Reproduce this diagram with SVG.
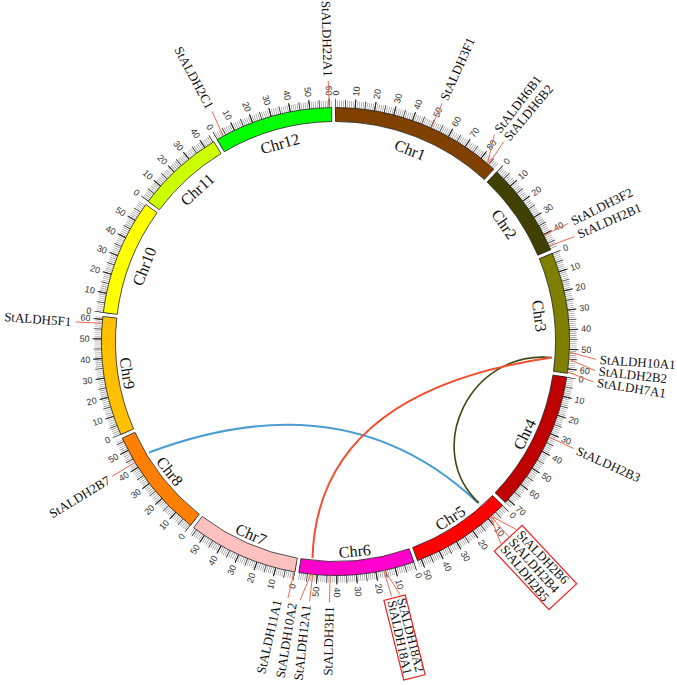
<svg xmlns="http://www.w3.org/2000/svg" xmlns:xlink="http://www.w3.org/1999/xlink" width="677" height="685" viewBox="0 0 677 685">
<style>
.tk1{fill:none;stroke:#8c8c8c;stroke-width:14;stroke-dasharray:0.6 1.36297;stroke-dashoffset:0.3}
.tk5{fill:none;stroke:#444;stroke-width:16;stroke-dasharray:0.8 9.01485;stroke-dashoffset:0.4}
.tk10{fill:none;stroke:#222;stroke-width:18;stroke-dasharray:1 18.6297;stroke-dashoffset:0.5}
.band{stroke:#222;stroke-width:0.8}
.num{font-family:"Liberation Sans",Arial,sans-serif;font-size:9px;fill:#333;dominant-baseline:central}
.nr{text-anchor:start}
.nl{text-anchor:end}
.chr{font-family:"Liberation Serif","Times New Roman",serif;font-size:16px;text-anchor:middle;fill:#111}
.gl{stroke:#f26a50;stroke-width:1;fill:none}
.gt{font-family:"Liberation Serif","Times New Roman",serif;font-size:13px;fill:#111;dominant-baseline:central}
.box{fill:none;stroke:#f02020;stroke-width:1.2}
.lk{fill:none}
</style>
<defs>
<path id="a1" d="M335.5,107.5 A234,234 0 0 1 493.84,169.21"/>
<path id="a2" d="M496.71,171.89 A234,234 0 0 1 550.74,249.71"/>
<path id="a3" d="M552.26,253.34 A234,234 0 0 1 567.33,373.30"/>
<path id="a4" d="M566.76,377.19 A234,234 0 0 1 505.31,502.50"/>
<path id="a5" d="M502.59,505.32 A234,234 0 0 1 417.54,560.65"/>
<path id="a6" d="M413.85,561.99 A234,234 0 0 1 298.75,572.60"/>
<path id="a7" d="M294.88,571.95 A234,234 0 0 1 193.71,527.65"/>
<path id="a8" d="M190.60,525.24 A234,234 0 0 1 122.22,438.13"/>
<path id="a9" d="M120.80,434.55 A234,234 0 0 1 102.84,316.52"/>
<path id="a10" d="M103.29,312.62 A234,234 0 0 1 145.79,204.51"/>
<path id="a11" d="M148.11,201.35 A234,234 0 0 1 213.80,141.64"/>
<path id="a12" d="M217.17,139.62 A234,234 0 0 1 331.58,107.53"/>
</defs>
<rect width="677" height="685" fill="#fff"/>

<g id="links">
<path class="lk" stroke="#4c9dd1" stroke-width="2" d="M149,452.5 Q346.5,378.3 478,503"/>
<path class="lk" stroke="#3a4a10" stroke-width="1.6" d="M551,357.5 C470,350 422,450 479,503"/>
<path class="lk" stroke="#f25030" stroke-width="2" d="M552,357.5 Q317.5,391.5 312.5,558"/>
</g>

<g id="chr1">
<use href="#a1" class="tk1"/><use href="#a1" class="tk5"/><use href="#a1" class="tk10"/>
<path class="band" fill="#7f4000" d="M335.5,107.5 A234,234 0 0 1 493.84,169.21 L484.37,179.52 A220,220 0 0 0 335.5,121.5 Z"/>
<text class="chr" transform="rotate(21.29 335.5 341.5)" x="335.5" y="141.5">Chr1</text>
<text class="num nr" transform="rotate(-90 335.5 341.5)" x="581.5" y="341.5">0</text>
<text class="num nr" transform="rotate(-85.194 335.5 341.5)" x="581.5" y="341.5">10</text>
<text class="num nr" transform="rotate(-80.387 335.5 341.5)" x="581.5" y="341.5">20</text>
<text class="num nr" transform="rotate(-75.581 335.5 341.5)" x="581.5" y="341.5">30</text>
<text class="num nr" transform="rotate(-70.774 335.5 341.5)" x="581.5" y="341.5">40</text>
<text class="num nr" transform="rotate(-65.968 335.5 341.5)" x="581.5" y="341.5">50</text>
<text class="num nr" transform="rotate(-61.162 335.5 341.5)" x="581.5" y="341.5">60</text>
<text class="num nr" transform="rotate(-56.355 335.5 341.5)" x="581.5" y="341.5">70</text>
<text class="num nr" transform="rotate(-51.549 335.5 341.5)" x="581.5" y="341.5">80</text>
</g>

<g id="chr2">
<use href="#a2" class="tk1"/><use href="#a2" class="tk5"/><use href="#a2" class="tk10"/>
<path class="band" fill="#404000" d="M496.71,171.89 A234,234 0 0 1 550.74,249.71 L537.87,255.20 A220,220 0 0 0 487.07,182.04 Z"/>
<text class="chr" transform="rotate(55.23 335.5 341.5)" x="335.5" y="141.5">Chr2</text>
<text class="num nr" transform="rotate(-46.454 335.5 341.5)" x="581.5" y="341.5">0</text>
<text class="num nr" transform="rotate(-41.647 335.5 341.5)" x="581.5" y="341.5">10</text>
<text class="num nr" transform="rotate(-36.841 335.5 341.5)" x="581.5" y="341.5">20</text>
<text class="num nr" transform="rotate(-32.035 335.5 341.5)" x="581.5" y="341.5">30</text>
<text class="num nr" transform="rotate(-27.228 335.5 341.5)" x="581.5" y="341.5">40</text>
</g>

<g id="chr3">
<use href="#a3" class="tk1"/><use href="#a3" class="tk5"/><use href="#a3" class="tk10"/>
<path class="band" fill="#808000" d="M552.26,253.34 A234,234 0 0 1 567.33,373.30 L553.46,371.40 A220,220 0 0 0 539.29,258.61 Z"/>
<text class="chr" transform="rotate(82.84 335.5 341.5)" x="335.5" y="141.5">Chr3</text>
<text class="num nr" transform="rotate(-22.133 335.5 341.5)" x="581.5" y="341.5">0</text>
<text class="num nr" transform="rotate(-17.327 335.5 341.5)" x="581.5" y="341.5">10</text>
<text class="num nr" transform="rotate(-12.521 335.5 341.5)" x="581.5" y="341.5">20</text>
<text class="num nr" transform="rotate(-7.714 335.5 341.5)" x="581.5" y="341.5">30</text>
<text class="num nr" transform="rotate(-2.908 335.5 341.5)" x="581.5" y="341.5">40</text>
<text class="num nr" transform="rotate(1.898 335.5 341.5)" x="581.5" y="341.5">50</text>
<text class="num nr" transform="rotate(6.705 335.5 341.5)" x="581.5" y="341.5">60</text>
</g>

<g id="chr4">
<use href="#a4" class="tk1"/><use href="#a4" class="tk5"/><use href="#a4" class="tk10"/>
<path class="band" fill="#c00000" d="M566.76,377.19 A234,234 0 0 1 505.31,502.50 L495.15,492.87 A220,220 0 0 0 552.93,375.05 Z"/>
<text class="chr" transform="rotate(-63.88 335.5 341.5)" x="335.5" y="557.5">Chr4</text>
<text class="num nr" transform="rotate(8.772 335.5 341.5)" x="581.5" y="341.5">0</text>
<text class="num nr" transform="rotate(13.578 335.5 341.5)" x="581.5" y="341.5">10</text>
<text class="num nr" transform="rotate(18.384 335.5 341.5)" x="581.5" y="341.5">20</text>
<text class="num nr" transform="rotate(23.191 335.5 341.5)" x="581.5" y="341.5">30</text>
<text class="num nr" transform="rotate(27.997 335.5 341.5)" x="581.5" y="341.5">40</text>
<text class="num nr" transform="rotate(32.804 335.5 341.5)" x="581.5" y="341.5">50</text>
<text class="num nr" transform="rotate(37.610 335.5 341.5)" x="581.5" y="341.5">60</text>
<text class="num nr" transform="rotate(42.417 335.5 341.5)" x="581.5" y="341.5">70</text>
</g>

<g id="chr5">
<use href="#a5" class="tk1"/><use href="#a5" class="tk5"/><use href="#a5" class="tk10"/>
<path class="band" fill="#ff0000" d="M502.59,505.32 A234,234 0 0 1 417.54,560.65 L412.63,547.54 A220,220 0 0 0 492.59,495.52 Z"/>
<text class="chr" transform="rotate(-33.04 335.5 341.5)" x="335.5" y="557.5">Chr5</text>
<text class="num nr" transform="rotate(44.435 335.5 341.5)" x="581.5" y="341.5">0</text>
<text class="num nr" transform="rotate(49.241 335.5 341.5)" x="581.5" y="341.5">10</text>
<text class="num nr" transform="rotate(54.048 335.5 341.5)" x="581.5" y="341.5">20</text>
<text class="num nr" transform="rotate(58.854 335.5 341.5)" x="581.5" y="341.5">30</text>
<text class="num nr" transform="rotate(63.660 335.5 341.5)" x="581.5" y="341.5">40</text>
<text class="num nr" transform="rotate(68.467 335.5 341.5)" x="581.5" y="341.5">50</text>
</g>

<g id="chr6">
<use href="#a6" class="tk1"/><use href="#a6" class="tk5"/><use href="#a6" class="tk10"/>
<path class="band" fill="#ff00cc" d="M413.85,561.99 A234,234 0 0 1 298.75,572.60 L300.95,558.77 A220,220 0 0 0 409.16,548.80 Z"/>
<text class="chr" transform="rotate(-5.26 335.5 341.5)" x="335.5" y="557.5">Chr6</text>
<text class="num nr" transform="rotate(70.438 335.5 341.5)" x="581.5" y="341.5">0</text>
<text class="num nr" transform="rotate(75.244 335.5 341.5)" x="581.5" y="341.5">10</text>
<text class="num nr" transform="rotate(80.050 335.5 341.5)" x="581.5" y="341.5">20</text>
<text class="num nr" transform="rotate(84.857 335.5 341.5)" x="581.5" y="341.5">30</text>
<text class="num nr" transform="rotate(89.663 335.5 341.5)" x="581.5" y="341.5">40</text>
<text class="num nl" transform="rotate(-85.530 335.5 341.5)" x="89.5" y="341.5">50</text>
</g>

<g id="chr7">
<use href="#a7" class="tk1"/><use href="#a7" class="tk5"/><use href="#a7" class="tk10"/>
<path class="band" fill="#ffc0c0" d="M294.88,571.95 A234,234 0 0 1 193.71,527.65 L202.19,516.51 A220,220 0 0 0 297.31,558.16 Z"/>
<text class="chr" transform="rotate(23.65 335.5 341.5)" x="335.5" y="557.5">Chr7</text>
<text class="num nl" transform="rotate(-80.003 335.5 341.5)" x="89.5" y="341.5">0</text>
<text class="num nl" transform="rotate(-75.196 335.5 341.5)" x="89.5" y="341.5">10</text>
<text class="num nl" transform="rotate(-70.390 335.5 341.5)" x="89.5" y="341.5">20</text>
<text class="num nl" transform="rotate(-65.584 335.5 341.5)" x="89.5" y="341.5">30</text>
<text class="num nl" transform="rotate(-60.777 335.5 341.5)" x="89.5" y="341.5">40</text>
<text class="num nl" transform="rotate(-55.971 335.5 341.5)" x="89.5" y="341.5">50</text>
</g>

<g id="chr8">
<use href="#a8" class="tk1"/><use href="#a8" class="tk5"/><use href="#a8" class="tk10"/>
<path class="band" fill="#ff8000" d="M190.60,525.24 A234,234 0 0 1 122.22,438.13 L134.98,432.35 A220,220 0 0 0 199.27,514.25 Z"/>
<text class="chr" transform="rotate(51.93 335.5 341.5)" x="335.5" y="557.5">Chr8</text>
<text class="num nl" transform="rotate(-51.741 335.5 341.5)" x="89.5" y="341.5">0</text>
<text class="num nl" transform="rotate(-46.935 335.5 341.5)" x="89.5" y="341.5">10</text>
<text class="num nl" transform="rotate(-42.129 335.5 341.5)" x="89.5" y="341.5">20</text>
<text class="num nl" transform="rotate(-37.322 335.5 341.5)" x="89.5" y="341.5">30</text>
<text class="num nl" transform="rotate(-32.516 335.5 341.5)" x="89.5" y="341.5">40</text>
<text class="num nl" transform="rotate(-27.710 335.5 341.5)" x="89.5" y="341.5">50</text>
</g>

<g id="chr9">
<use href="#a9" class="tk1"/><use href="#a9" class="tk5"/><use href="#a9" class="tk10"/>
<path class="band" fill="#ffc000" d="M120.80,434.55 A234,234 0 0 1 102.84,316.52 L116.76,318.01 A220,220 0 0 0 133.64,428.98 Z"/>
<text class="chr" transform="rotate(81.35 335.5 341.5)" x="335.5" y="557.5">Chr9</text>
<text class="num nl" transform="rotate(-23.431 335.5 341.5)" x="89.5" y="341.5">0</text>
<text class="num nl" transform="rotate(-18.625 335.5 341.5)" x="89.5" y="341.5">10</text>
<text class="num nl" transform="rotate(-13.819 335.5 341.5)" x="89.5" y="341.5">20</text>
<text class="num nl" transform="rotate(-9.012 335.5 341.5)" x="89.5" y="341.5">30</text>
<text class="num nl" transform="rotate(-4.206 335.5 341.5)" x="89.5" y="341.5">40</text>
<text class="num nl" transform="rotate(0.601 335.5 341.5)" x="89.5" y="341.5">50</text>
<text class="num nl" transform="rotate(5.407 335.5 341.5)" x="89.5" y="341.5">60</text>
</g>

<g id="chr10">
<use href="#a10" class="tk1"/><use href="#a10" class="tk5"/><use href="#a10" class="tk10"/>
<path class="band" fill="#ffff00" d="M103.29,312.62 A234,234 0 0 1 145.79,204.51 L157.14,212.71 A220,220 0 0 0 117.18,314.35 Z"/>
<text class="chr" transform="rotate(-68.54 335.5 341.5)" x="335.5" y="141.5">Chr10</text>
<text class="num nl" transform="rotate(7.090 335.5 341.5)" x="89.5" y="341.5">0</text>
<text class="num nl" transform="rotate(11.896 335.5 341.5)" x="89.5" y="341.5">10</text>
<text class="num nl" transform="rotate(16.702 335.5 341.5)" x="89.5" y="341.5">20</text>
<text class="num nl" transform="rotate(21.509 335.5 341.5)" x="89.5" y="341.5">30</text>
<text class="num nl" transform="rotate(26.315 335.5 341.5)" x="89.5" y="341.5">40</text>
<text class="num nl" transform="rotate(31.121 335.5 341.5)" x="89.5" y="341.5">50</text>
</g>

<g id="chr11">
<use href="#a11" class="tk1"/><use href="#a11" class="tk5"/><use href="#a11" class="tk10"/>
<path class="band" fill="#ccff00" d="M148.11,201.35 A234,234 0 0 1 213.80,141.64 L221.08,153.59 A220,220 0 0 0 159.32,209.74 Z"/>
<text class="chr" transform="rotate(-42.27 335.5 341.5)" x="335.5" y="141.5">Chr11</text>
<text class="num nl" transform="rotate(36.793 335.5 341.5)" x="89.5" y="341.5">0</text>
<text class="num nl" transform="rotate(41.600 335.5 341.5)" x="89.5" y="341.5">10</text>
<text class="num nl" transform="rotate(46.406 335.5 341.5)" x="89.5" y="341.5">20</text>
<text class="num nl" transform="rotate(51.212 335.5 341.5)" x="89.5" y="341.5">30</text>
<text class="num nl" transform="rotate(56.019 335.5 341.5)" x="89.5" y="341.5">40</text>
</g>

<g id="chr12">
<use href="#a12" class="tk1"/><use href="#a12" class="tk5"/><use href="#a12" class="tk10"/>
<path class="band" fill="#00ff00" d="M217.17,139.62 A234,234 0 0 1 331.58,107.53 L331.81,121.53 A220,220 0 0 0 224.25,151.70 Z"/>
<text class="chr" transform="rotate(-15.67 335.5 341.5)" x="335.5" y="141.5">Chr12</text>
<text class="num nl" transform="rotate(59.624 335.5 341.5)" x="89.5" y="341.5">0</text>
<text class="num nl" transform="rotate(64.430 335.5 341.5)" x="89.5" y="341.5">10</text>
<text class="num nl" transform="rotate(69.237 335.5 341.5)" x="89.5" y="341.5">20</text>
<text class="num nl" transform="rotate(74.043 335.5 341.5)" x="89.5" y="341.5">30</text>
<text class="num nl" transform="rotate(78.850 335.5 341.5)" x="89.5" y="341.5">40</text>
<text class="num nl" transform="rotate(83.656 335.5 341.5)" x="89.5" y="341.5">50</text>
<text class="num nl" transform="rotate(88.462 335.5 341.5)" x="89.5" y="341.5">60</text>
</g>

<g id="gene-labels">
<path class="gl" d="M431.0,127.9 L442.1,103.3 M487.5,163.6 L494.4,134.4 M488.4,164.4 L503.6,141.9 M544.0,235.3 L568.3,223.4 M549.1,246.0 L574.5,236.6 M569.3,352.1 L595.9,359.3 M568.8,359.0 L594.9,370.6 M567.5,372.0 L593.4,381.9 M549.1,437.1 L573.6,448.5 M491.2,516.2 L516.5,529.6 M490.9,516.5 L508.8,536.7 M490.6,516.8 L500.8,543.5 M384.6,570.3 L400.0,594.5 M383.8,570.5 L391.6,596.4 M330.2,575.4 L329.4,602.4 M312.7,574.4 L309.6,601.3 M311.0,574.2 L300.1,600.1 M294.1,571.8 L287.9,598.1 M135.1,462.4 L112.0,476.3 M102.2,323.3 L75.2,321.9 M223.1,136.2 L212.2,111.5 M329.4,107.6 L328.2,80.6"/>
<text class="gt" transform="rotate(-65.9 335.5 341.5)" x="600.5" y="341.5">StALDH3F1</text>
<text class="gt" transform="rotate(-52.5 335.5 341.5)" x="600.5" y="341.5">StALDH6B1</text>
<text class="gt" transform="rotate(-49.9 335.5 341.5)" x="600.5" y="341.5">StALDH6B2</text>
<text class="gt" transform="rotate(-26.9 335.5 341.5)" x="600.5" y="341.5">StALDH3F2</text>
<text class="gt" transform="rotate(-23.8 335.5 341.5)" x="600.5" y="341.5">StALDH2B1</text>
<text class="gt" transform="rotate(3.9 335.5 341.5)" x="600.5" y="341.5">StALDH10A1</text>
<text class="gt" transform="rotate(6.4 335.5 341.5)" x="600.5" y="341.5">StALDH2B2</text>
<text class="gt" transform="rotate(8.9 335.5 341.5)" x="600.5" y="341.5">StALDH7A1</text>
<text class="gt" transform="rotate(24.2 335.5 341.5)" x="600.5" y="341.5">StALDH2B3</text>
<text class="gt" transform="rotate(46.1 335.5 341.5)" x="600.5" y="341.5">StALDH2B6</text>
<text class="gt" transform="rotate(48.4 335.5 341.5)" x="600.5" y="341.5">StALDH2B4</text>
<text class="gt" transform="rotate(50.7 335.5 341.5)" x="600.5" y="341.5">StALDH2B5</text>
<text class="gt" transform="rotate(75.6 335.5 341.5)" x="600.5" y="341.5">StALDH18A2</text>
<text class="gt" transform="rotate(77.7 335.5 341.5)" x="600.5" y="341.5">StALDH18A1</text>
<text class="gt" text-anchor="end" transform="rotate(-88.66 335.5 341.5)" x="70.5" y="341.5">StALDH3H1</text>
<text class="gt" text-anchor="end" transform="rotate(-83.68 335.5 341.5)" x="70.5" y="341.5">StALDH12A1</text>
<text class="gt" text-anchor="end" transform="rotate(-80.62 335.5 341.5)" x="70.5" y="341.5">StALDH10A2</text>
<text class="gt" text-anchor="end" transform="rotate(-77.31 335.5 341.5)" x="70.5" y="341.5">StALDH11A1</text>
<text class="gt" text-anchor="end" transform="rotate(-31.25 335.5 341.5)" x="70.5" y="341.5">StALDH2B7</text>
<text class="gt" text-anchor="end" transform="rotate(4.3 335.5 341.5)" x="70.5" y="341.5">StALDH5F1</text>
<text class="gt" text-anchor="end" transform="rotate(61.8 335.5 341.5)" x="70.5" y="341.5">StALDH2C1</text>
<text class="gt" text-anchor="end" transform="rotate(88.4 335.5 341.5)" x="70.5" y="341.5">StALDH22A1</text>
<rect class="box" x="-40" y="-19" width="80" height="38" transform="translate(535.5,567.5) rotate(47)"/>
<rect class="box" x="-41" y="-11" width="82" height="22" transform="translate(404.5,637.5) rotate(76)"/>
</g>
</svg>
